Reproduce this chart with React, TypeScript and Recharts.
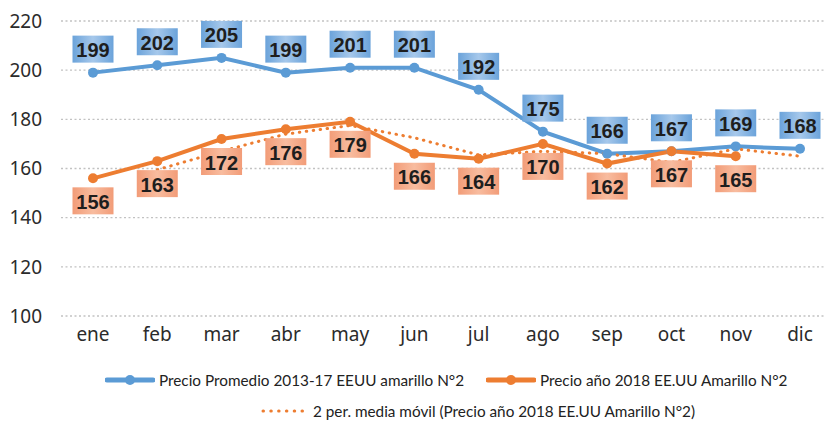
import React from 'react';
import { LineChart, Line, XAxis, YAxis, CartesianGrid, LabelList } from 'recharts';

const months = ['ene', 'feb', 'mar', 'abr', 'may', 'jun', 'jul', 'ago', 'sep', 'oct', 'nov', 'dic'];
const promedio1317 = [199, 202, 205, 199, 201, 201, 192, 175, 166, 167, 169, 168];
const precio2018 = [156, 163, 172, 176, 179, 166, 164, 170, 162, 167, 165, null];
const mediaMovil = [null, 159.5, 167, 174, 177.5, 172.5, 165.5, 167, 166, 162.5, 168, 165];
const yTicks = [100, 120, 140, 160, 180, 200, 220];

const legendNames = [
  'Precio Promedio 2013-17 EEUU amarillo N°2',
  'Precio año 2018 EE.UU Amarillo N°2',
  '2 per. media móvil (Precio año 2018 EE.UU Amarillo N°2)',
];

const BLUE = '#5b9bd5';
const ORANGE = '#ed7d31';
const FONT = "'Noto Sans', sans-serif";
const LABEL_FONT = "'Liberation Sans Narrow', 'Liberation Sans', sans-serif";

const data = months.map((m, i) => ({
  month: m,
  promedio: promedio1317[i],
  y2018: precio2018[i],
  ma: mediaMovil[i],
}));

// value boxes: blue above the point, salmon below it
const makeLabel = (fill: string, above: boolean) => (props: any) => {
  const { x, y, value } = props;
  if (value == null || x == null || y == null) return null;
  const w = 41;
  const h = 27;
  const top = above ? y - 37 : y + 9;
  return (
    <g>
      <rect x={x - w / 2} y={top} width={w} height={h} fill={fill} />
      <text
        x={x}
        y={top + h / 2 + 1}
        textAnchor="middle"
        dominantBaseline="central"
        fontFamily={LABEL_FONT}
        fontWeight={700}
        fontSize={20}
        fill="#1e1e1e"
      >
        {value}
      </text>
    </g>
  );
};

function LegendLine({ color, dotted }: { color: string; dotted?: boolean }) {
  return (
    <svg width={dotted ? 44 : 50} height={12} style={{ display: 'block' }}>
      {dotted ? (
        <line x1={2} y1={6} x2={42} y2={6} stroke={color} strokeWidth={3} strokeDasharray="0.5 7.3" strokeLinecap="round" />
      ) : (
        <>
          <line x1={2} y1={6} x2={48} y2={6} stroke={color} strokeWidth={5} strokeLinecap="round" />
          <circle cx={25} cy={6} r={5} fill={color} />
        </>
      )}
    </svg>
  );
}

const legendItemStyle: React.CSSProperties = {
  position: 'absolute',
  display: 'flex',
  alignItems: 'center',
  gap: 4,
  fontFamily: 'Lato, sans-serif',
  fontSize: 15.3,
  color: '#222',
  whiteSpace: 'nowrap',
};

export default function App() {
  return (
    <div style={{ position: 'absolute', left: 0, top: 0, width: 824, height: 423, overflow: 'hidden', background: '#fff' }}>
      <svg width={0} height={0} style={{ position: 'absolute' }}>
        <defs>
          <linearGradient id="blueBox" x1="0" y1="0" x2="1" y2="0">
            <stop offset="0%" stopColor="#6ba3da" />
            <stop offset="50%" stopColor="#a6c8eb" />
            <stop offset="100%" stopColor="#6ba3da" />
          </linearGradient>
          <linearGradient id="orangeBox" x1="0" y1="0" x2="1" y2="0">
            <stop offset="0%" stopColor="#f29c78" />
            <stop offset="50%" stopColor="#f8bc9f" />
            <stop offset="100%" stopColor="#f29c78" />
          </linearGradient>
        </defs>
      </svg>
      <LineChart width={840} height={423} data={data} margin={{ top: 21, right: 8, left: 0, bottom: 77 }}>
        <CartesianGrid vertical={false} stroke="#c2c2c2" strokeWidth={1.3} strokeDasharray="2 2.5" />
        <XAxis
          dataKey="month"
          axisLine={false}
          tickLine={false}
          tickSize={0}
          tickMargin={12}
          height={30}
          interval={0}
          padding={{ left: 32, right: 32 }}
          tick={{ fill: '#2b2b2b', fontSize: 19, fontFamily: FONT }}
        />
        <YAxis
          domain={[100, 220]}
          ticks={yTicks}
          axisLine={false}
          tickLine={false}
          tickSize={0}
          tickMargin={19}
          width={61}
          tick={{ fill: '#2b2b2b', fontSize: 19, fontFamily: FONT }}
        />
        <Line
          dataKey="promedio"
          stroke={BLUE}
          strokeWidth={4}
          dot={{ r: 5, fill: BLUE, stroke: BLUE, strokeWidth: 0 }}
          isAnimationActive={false}
        />
        <Line
          dataKey="y2018"
          stroke={ORANGE}
          strokeWidth={4}
          dot={{ r: 5, fill: ORANGE, stroke: ORANGE, strokeWidth: 0 }}
          isAnimationActive={false}
        />
        <Line
          dataKey="ma"
          stroke={ORANGE}
          strokeWidth={3}
          strokeDasharray="0.5 6.5"
          strokeLinecap="round"
          dot={false}
          isAnimationActive={false}
        />
        <Line dataKey="promedio" stroke="none" dot={false} legendType="none" isAnimationActive={false}>
          <LabelList dataKey="promedio" content={makeLabel('url(#blueBox)', true)} />
        </Line>
        <Line dataKey="y2018" stroke="none" dot={false} legendType="none" isAnimationActive={false}>
          <LabelList dataKey="y2018" content={makeLabel('url(#orangeBox)', false)} />
        </Line>
      </LineChart>
      <div style={{ ...legendItemStyle, left: 105, top: 371 }}>
        <LegendLine color={BLUE} />
        <span>{legendNames[0]}</span>
      </div>
      <div style={{ ...legendItemStyle, left: 486, top: 371 }}>
        <LegendLine color={ORANGE} />
        <span>{legendNames[1]}</span>
      </div>
      <div style={{ ...legendItemStyle, left: 261, top: 402, gap: 8 }}>
        <LegendLine color={ORANGE} dotted />
        <span>{legendNames[2]}</span>
      </div>
    </div>
  );
}
